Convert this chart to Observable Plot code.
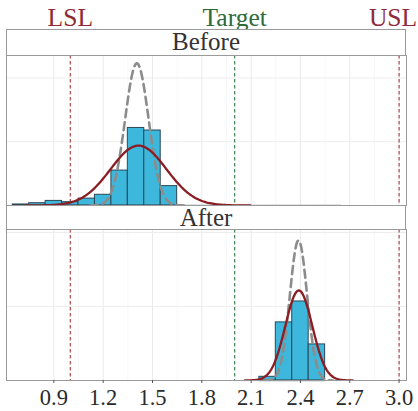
<!DOCTYPE html>
<html><head><meta charset="utf-8">
<script src="https://cdn.jsdelivr.net/npm/d3@7"></script>
<script src="https://cdn.jsdelivr.net/npm/@observablehq/plot@0.6"></script>
<style>
body{margin:0;background:#fff}
#wrap{position:relative;width:418px;height:411px;font-family:"Liberation Serif",serif;overflow:hidden}
#wrap svg{position:absolute;left:0}
.strip{position:absolute;left:6px;width:400px;box-sizing:border-box;border:1px solid #9a9a9a;background:#fff;color:#333;font-size:25px;text-align:center;font-family:"Liberation Serif",serif}
</style></head><body>
<div id="wrap"></div>
<script>
// ---- data ----
const panels = ["Before", "After"];
const specNames = ["LSL", "Target", "USL"];
const specValues = [1.0, 2.0, 3.0];
const specColors = ["#a83a3a", "#2f7a45", "#a83a48"];
const labelColors = ["#8e2a33", "#2e6a3a", "#8e2a3c"];
const xTicks = [0.9, 1.2, 1.5, 1.8, 2.1, 2.4, 2.7, 3.0];
const xMinor = [1.05, 1.35, 1.65, 1.95, 2.25, 2.55, 2.85];
const binWidth = 0.1;
const beforeBinStart = [0.65, 0.75, 0.85, 0.95, 1.05, 1.15, 1.25, 1.35, 1.45, 1.55,
                        1.65, 1.75, 1.85, 1.95, 2.05, 2.15, 2.25, 2.35, 2.45, 2.55];
const beforeDensity  = [0.04, 0.09, 0.18, 0.13, 0.27, 0.42, 1.37, 3.04, 2.94, 0.76,
                        0, 0, 0, 0, 0, 0, 0, 0, 0, 0];
const afterBinStart = [2.15, 2.25, 2.35, 2.45];
const afterDensity  = [0.20, 3.14, 4.27, 1.95];
const overallMean = [1.415, 2.39];   // solid red fitted normal
const overallSd   = [0.17, 0.082];
const withinMean  = [1.405, 2.388];  // dashed grey fitted normal
const withinSd    = [0.0716, 0.0527];
const yTicksBefore = [2.5, 5];
const yTicksAfter  = [4, 8];
const yTopBefore = 5.88, yTopAfter = 8.16;

// ---- helpers ----
const bins = (starts, dens) => starts.map((s, i) => ({lo: s, hi: s + binWidth, d: dens[i]}));
const normalCurve = (m, s) => d3.range(161).map(i => {
  const x = m - 4 * s + i * 8 * s / 160;
  return {x, y: Math.exp(-0.5 * ((x - m) / s) ** 2) / (s * Math.sqrt(2 * Math.PI))};
});
const xDomain = [0.612, 3.045];
const font = '"Liberation Serif", serif';

function panel(k, binsData, yTop, yTicks, opts) {
  const marks = [
    Plot.gridX(xMinor, {stroke: "#f3f3f3", strokeOpacity: 1, strokeWidth: 0.7}),
    Plot.gridX(xTicks, {stroke: "#e8e8e8", strokeOpacity: 1, strokeWidth: 0.9}),
    Plot.gridY(yTicks, {stroke: "#ebebeb", strokeOpacity: 1, strokeWidth: 0.9}),
    Plot.ruleX(specValues, {stroke: (d, i) => specColors[i], strokeDasharray: "3.5,2.5", strokeWidth: 1.1}),
    Plot.rectY(binsData.filter(b => b.d > 0), {x1: "lo", x2: "hi", y: "d", fill: "#3db8dc", stroke: "#2c4756", strokeWidth: 1}),
    Plot.ruleY(binsData, {x1: "lo", x2: "hi", y: 0, stroke: "#3a4a52", strokeWidth: 1.3}),
    Plot.line(normalCurve(withinMean[k], withinSd[k]), {x: "x", y: "y", stroke: "#8c8c8c", strokeWidth: 2.6, strokeDasharray: "8,5", clip: true}),
    Plot.line(normalCurve(overallMean[k], overallSd[k]), {x: "x", y: "y", stroke: "#8b1c22", strokeWidth: 2.3, clip: true}),
    Plot.frame({stroke: "#9a9a9a", strokeWidth: 1})
  ];
  return Plot.plot({
    width: 418, height: 206,
    marginLeft: 6, marginRight: 12,
    ...opts.margins,
    x: {domain: xDomain, axis: null},
    y: {domain: [0, yTop], axis: null},
    color: {type: "identity"},
    style: {fontFamily: font, background: "transparent", overflow: "visible"},
    marks: marks.concat(opts.extra || [])
  });
}

const wrap = document.getElementById("wrap");

const before = panel(0, bins(beforeBinStart, beforeDensity), yTopBefore, yTicksBefore, {
  margins: {marginTop: 55, marginBottom: 1},
  extra: [
    Plot.text([0, 1], {x: i => specValues[i], text: i => specNames[i], fill: i => labelColors[i],
      frameAnchor: "top", dy: -30, lineAnchor: "bottom", fontSize: 25.5}),
    Plot.text([2], {x: i => specValues[i], text: i => specNames[i], fill: i => labelColors[i],
      frameAnchor: "top", dy: -30, dx: 18, textAnchor: "end", lineAnchor: "bottom", fontSize: 25.5})
  ]
});
before.style.top = "0px";
wrap.appendChild(before);

const after = panel(1, bins(afterBinStart, afterDensity), yTopAfter, yTicksAfter, {
  margins: {marginTop: 24, marginBottom: 31},
  extra: [
    Plot.axisX(xTicks, {tickFormat: d3.format(".1f"), tickSize: 3, tickPadding: 6, fontSize: 22.5, color: "#2a2a2a", stroke: "#555"})
  ]
});
after.style.top = "205px";
wrap.appendChild(after);

// facet strips
[[panels[0], 29, 27, "24px"], [panels[1], 205, 25, "23px"]].forEach(([name, top, h, lh]) => {
  const s = document.createElement("div");
  s.className = "strip";
  s.style.top = top + "px";
  s.style.height = h + "px";
  s.style.lineHeight = lh;
  s.textContent = name;
  wrap.appendChild(s);
});
</script>
</body></html>
